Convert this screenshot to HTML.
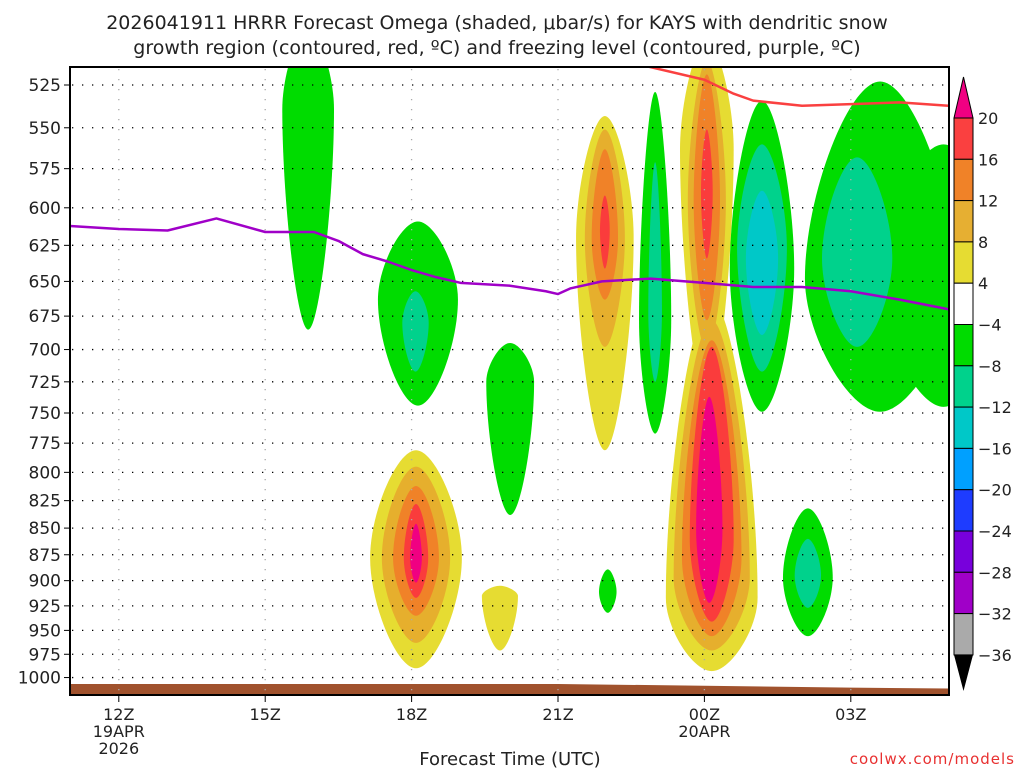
<!DOCTYPE html>
<html><head><meta charset="utf-8"><style>
body{margin:0;background:#fff;}
svg{display:block;font-family:"DejaVu Sans","Liberation Sans",sans-serif;}
</style></head><body>
<svg id="chart" width="1024" height="768" viewBox="0 0 1024 768">
<text x="497" y="29" font-size="19" text-anchor="middle" fill="#222">2026041911 HRRR Forecast Omega (shaded, μbar/s) for KAYS with dendritic snow</text>
<text x="497" y="54" font-size="19" text-anchor="middle" fill="#222">growth region (contoured, red, ºC) and freezing level (contoured, purple, ºC)</text>
<defs><clipPath id="pc"><rect x="70" y="67" width="879" height="628"/></clipPath></defs>
<g id="fills" clip-path="url(#pc)"></g>
<g id="grid"></g>
<g id="lines" clip-path="url(#pc)"></g>
<rect x="70" y="67" width="879" height="628" fill="none" stroke="#000" stroke-width="2"/>
<g id="axes"></g>
<g id="cbar"></g>
<text x="510" y="765" font-size="18" text-anchor="middle" fill="#222">Forecast Time (UTC)</text>
<text x="1015" y="764" font-size="15" text-anchor="end" fill="#e83030" letter-spacing="1">coolwx.com/models</text>
</svg>
<script>
const levels=[525,550,575,600,625,650,675,700,725,750,775,800,825,850,875,900,925,950,975,1000];
const tickHours=[12,15,18,21,24,27];
const tickLabels=[["12Z","19APR","2026"],["15Z"],["18Z"],["21Z"],["00Z","20APR"],["03Z"]];
// omega rings: [centerHour, topP, bottomP, halfWidthHours, widestP, colorKey]
const blobs=[
 [15.88,494,685,0.53,539,"g"],
 [18.13,609,744,0.82,663,"g"],[18.08,657,717,0.27,680,"t"],
 [20.02,695,838,0.49,725,"g"],
 [18.09,781,990,0.94,878,"y"],[18.09,795,963,0.70,878,"o1"],[18.09,812,935,0.47,878,"o2"],[18.09,828,917,0.25,878,"r"],[18.09,846,902,0.12,878,"m"],
 [19.81,905,971,0.37,915,"y"],
 [21.96,543,781,0.59,620,"y"],[21.96,551,698,0.41,620,"o1"],[21.96,563,663,0.27,620,"o2"],[21.96,592,641,0.10,615,"r"],
 [22.02,889,932,0.18,911,"g"],
 [22.99,529,767,0.33,678,"g"],[22.99,571,725,0.14,672,"t"],
 [24.05,500,741,0.55,563,"y"],[24.15,663,993,0.94,917,"y"],
 [24.05,511,701,0.39,595,"o1"],[24.15,678,971,0.78,897,"o1"],
 [24.05,519,678,0.27,595,"o2"],[24.15,693,956,0.61,878,"o2"],
 [24.05,551,634,0.12,590,"r"],[24.15,698,941,0.45,860,"r"],
 [24.1,737,922,0.27,851,"m"],
 [25.18,534,749,0.66,641,"g"],[25.18,560,717,0.51,627,"t"],[25.18,589,689,0.33,634,"c"],
 [26.12,832,956,0.51,897,"g"],[26.12,860,927,0.27,895,"t"],
 [27.6,523,749,1.54,648,"g"],[28.9,560,745,1.3,650,"g"],[27.13,568,698,0.72,634,"t"]
];
const colorMap={g:"#00dc00",t:"#00d28c",c:"#00c8c8",y:"#e6dc32",o1:"#e6af2d",o2:"#f08228",r:"#fa3c3c",m:"#f00082"};
const fzHours=[11,12,13,14,15,16,16.5,17,17.5,18,18.5,19,20,20.75,21,21.25,21.9,22.9,24,25,26,27,28,29];
const fzPress=[612,614,615,607,616,616,622,631,636,642,647,651,653,657,659,655,650,648,651,654,654,657,663,670];
const dgzHours=[22.6,24,24.6,25,26,27,28,29];
const dgzPress=[513,522,530,534,537,536,535,537];
const sfcHours=[11,21,24,27,29];
const sfcPress=[1007,1007,1009,1011,1012];
const cbLabels=["20","16","12","8","4","−4","−8","−12","−16","−20","−24","−28","−32","−36"];
const cbColors=["#fa4040","#f08228","#e6af32","#e6dc32","#ffffff","#00dc00","#00d28c","#00c8c8","#00a0ff","#1e3cff","#7800dc","#a000c8","#aaaaaa"];

const NS="http://www.w3.org/2000/svg";
const X=h=>70+(h-11)*48.8;
const Y=p=>85+919.6*Math.log(p/525);
function mk(tag,attrs,parent){const e=document.createElementNS(NS,tag);for(const k in attrs)e.setAttribute(k,attrs[k]);parent.appendChild(e);return e;}
const fills=document.getElementById('fills'),grid=document.getElementById('grid'),lines=document.getElementById('lines'),axes=document.getElementById('axes'),cbar=document.getElementById('cbar');

blobs.forEach((b,i)=>{
 const cx=X(b[0]),yt=Y(b[1]),yb=Y(b[2]),w=b[3]*48.8,yw=Y(b[4]);
 const k=0.42;
 const d=`M${cx},${yt} C${cx+w*k},${yt} ${cx+w},${yw-(yw-yt)*k} ${cx+w},${yw} C${cx+w},${yw+(yb-yw)*k} ${cx+w*k},${yb} ${cx},${yb} C${cx-w*k},${yb} ${cx-w},${yw+(yb-yw)*k} ${cx-w},${yw} C${cx-w},${yw-(yw-yt)*k} ${cx-w*k},${yt} ${cx},${yt}Z`;
 const e=mk('path',{d:d,fill:colorMap[b[5]]},fills);
 
 
});
{let d=`M${X(sfcHours[0])},${Y(sfcPress[0])}`;sfcHours.forEach((h,i)=>d+=` L${X(h)},${Y(sfcPress[i])}`);d+=` L949,700 L70,700Z`;
 const e=mk('path',{d:d,fill:"#a0522d"},fills);
 
 }
levels.forEach(p=>{const y=Y(p);
 const l=mk('line',{x1:72,x2:947,y1:y,y2:y,stroke:"#000","stroke-width":1.3,"stroke-dasharray":"1.3 8.7"},grid);
 
 
 mk('line',{x1:64,x2:70,y1:y,y2:y,stroke:"#000","stroke-width":1},axes);
 const t=mk('text',{x:61,y:y+6,"font-size":17,"text-anchor":"end",fill:"#222"},axes);t.textContent=p;
 
 
});
tickHours.forEach((h,i)=>{const x=X(h);
 const l=mk('line',{x1:x,x2:x,y1:69,y2:693,stroke:"#aaa","stroke-width":1.3,"stroke-dasharray":"1.3 8.7"},grid);
 
 
 mk('line',{x1:x,x2:x,y1:695,y2:702,stroke:"#000","stroke-width":1},axes);
 tickLabels[i].forEach((s,j)=>{const t=mk('text',{x:x,y:720+j*17,"font-size":16,"text-anchor":"middle",fill:"#222"},axes);t.textContent=s;
  
  });
});
function poly(hs,ps,color,name){let d='';hs.forEach((h,i)=>d+=(i?' L':'M')+X(h)+','+Y(ps[i]));
 const e=mk('path',{d:d,fill:"none",stroke:color,"stroke-width":2.5,"stroke-linejoin":"round"},lines);
 
 }
poly(fzHours,fzPress,"#a000c8","freezing-level-line");
poly(dgzHours,dgzPress,"#fa4040","dendritic-growth-line");
const bt=118,bh=41.3;
{const e=mk('polygon',{points:`954,${bt} 973,${bt} 963.5,77`,fill:"#f00082",stroke:"#000","stroke-width":1},cbar);
 
 }
cbColors.forEach((c,i)=>{const e=mk('rect',{x:954,y:bt+i*bh,width:19,height:bh,fill:c,stroke:"#000","stroke-width":1},cbar);
 
 });
{const yb=bt+cbColors.length*bh;const e=mk('polygon',{points:`954,${yb} 973,${yb} 963.5,691`,fill:"#000"},cbar);
 
 }
cbLabels.forEach((s,i)=>{const t=mk('text',{x:978,y:bt+i*bh+6,"font-size":16,fill:"#222"},cbar);t.textContent=s;
 
 });
</script>
</body></html>
